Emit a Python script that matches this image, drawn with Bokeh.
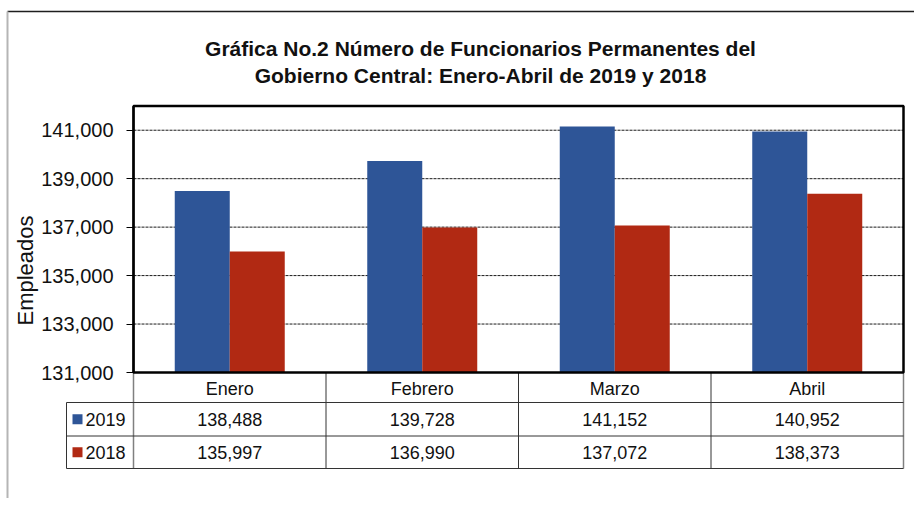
import math
from bokeh.plotting import figure
from bokeh.models import Range1d, FixedTicker, NumeralTickFormatter, LinearAxis
from bokeh.embed import file_html
from bokeh.resources import INLINE
from bokeh.core.properties import value

# ---------------- data ----------------
months = ["Enero", "Febrero", "Marzo", "Abril"]
series_names = ["2019", "2018"]
values_2019 = [138488, 139728, 141152, 140952]
values_2018 = [135997, 136990, 137072, 138373]
y_ticks = [131000, 133000, 135000, 137000, 139000, 141000]
title_lines = ["Gráfica No.2 Número de Funcionarios Permanentes del",
               "Gobierno Central: Enero-Abril de 2019 y 2018"]
y_label = "Empleados"

# ---------------- layout constants (canvas pixels) ----------------
BLUE = "#2E5597"
RED = "#B12913"
FONT = "Liberation Sans"
W, H = 914, 498
PLOT_L, PLOT_R = 133, 903          # chart frame, x
PLOT_T, PLOT_B = 105.5, 372        # chart frame, y (from top)
Y0, Y1 = 131000, 142000
NCAT = len(months)
cat_px = (PLOT_R - PLOT_L) / NCAT
val_px = (PLOT_B - PLOT_T) / (Y1 - Y0)
BAR_W = 0.2857

x_start = -PLOT_L / cat_px
x_end = NCAT + (W - PLOT_R) / cat_px
y_start = Y0 - (H - PLOT_B) / val_px
y_end = Y1 + PLOT_T / val_px

def px_x(v):
    return (v - PLOT_L) / cat_px

p = figure(width=W, height=H, x_range=Range1d(x_start, x_end), y_range=Range1d(y_start, y_end),
           output_backend="svg", toolbar_location=None,
           x_axis_location=None, y_axis_location=None,
           min_border_left=0, min_border_right=0, min_border_top=0, min_border_bottom=0)
p.extra_y_ranges = {"px": Range1d(H, 0)}
p.outline_line_color = None
p.xgrid.visible = False
p.ygrid.visible = False

centers = [i + 0.5 for i in range(NCAT)]

# grid lines (dotted) inside chart area
p.segment(x0=[0] * (len(y_ticks) - 1), x1=[NCAT] * (len(y_ticks) - 1), y0=y_ticks[1:], y1=y_ticks[1:],
          line_color="#1a1a1a", line_width=1, line_dash="3 1")

# bars
p.vbar(x=[c - BAR_W / 2 for c in centers], top=values_2019, bottom=Y0, width=BAR_W,
       fill_color=BLUE, line_color=None)
p.vbar(x=[c + BAR_W / 2 for c in centers], top=values_2018, bottom=Y0, width=BAR_W,
       fill_color=RED, line_color=None)

# outer chart border
p.segment(x0=[px_x(7)], x1=[x_end], y0=[11], y1=[11], y_range_name="px",
          line_color="#1e1e1e", line_width=1.5)
p.segment(x0=[px_x(7)], x1=[px_x(7)], y0=[11], y1=[H], y_range_name="px",
          line_color="#b5b5b5", line_width=2)

# ---------------- data table ----------------
HDR_T, HDR_B, R1_B, R2_B = PLOT_B, 402, 435.5, 468
LEFT_COL = px_x(66)
LINE = "#333333"
p.segment(x0=list(range(1, NCAT)), x1=list(range(1, NCAT)), y0=[HDR_T] * (NCAT - 1),
          y1=[R2_B] * (NCAT - 1), y_range_name="px", line_color=LINE, line_width=1)
p.segment(x0=[0, NCAT], x1=[0, NCAT], y0=[HDR_T, HDR_T], y1=[R2_B, R2_B], y_range_name="px",
          line_color="#808080", line_width=1.5)
p.segment(x0=[LEFT_COL], x1=[LEFT_COL], y0=[HDR_B], y1=[R2_B], y_range_name="px",
          line_color=LINE, line_width=1)
p.segment(x0=[LEFT_COL] * 3, x1=[NCAT] * 3, y0=[HDR_B, R1_B, R2_B], y1=[HDR_B, R1_B, R2_B],
          y_range_name="px", line_color=LINE, line_width=1)

# chart frame
p.quad(left=[0], right=[NCAT], bottom=[Y0], top=[Y1], fill_color=None,
       line_color="black", line_width=2.5)

# y axis at the chart's left edge
ax = LinearAxis(fixed_location=0, bounds=(Y0, Y1))
ax.ticker = FixedTicker(ticks=y_ticks)
ax.formatter = NumeralTickFormatter(format="0,0")
ax.major_label_text_font = FONT
ax.major_label_text_font_size = "20px"
ax.major_label_text_color = "#111111"
ax.major_tick_out = 7
ax.major_tick_in = 0
ax.minor_tick_out = 0
ax.minor_tick_in = 0
ax.major_tick_line_color = "black"
ax.axis_line_color = "black"
ax.axis_line_width = 2
ax.major_label_standoff = 13
p.add_layout(ax, "left")

# title
title_x = px_x(480)
p.text(x=[title_x, title_x], y=[48, 75], text=title_lines, y_range_name="px",
       text_align="center", text_baseline="middle", text_font=value(FONT),
       text_font_size="21px", text_font_style="bold", text_color="#111111")

# y axis label
p.text(x=[px_x(25)], y=[270], text=[y_label], y_range_name="px", angle=math.pi / 2,
       text_align="center", text_baseline="middle", text_font=value(FONT),
       text_font_size="22px", text_color="#111111")

row_h = (HDR_T + HDR_B) / 2 + 1
row_a = (HDR_B + R1_B) / 2
row_b = (R1_B + R2_B) / 2
txt = dict(text_align="center", text_baseline="middle", text_font=value(FONT),
           text_font_size="18px", text_color="#111111", y_range_name="px")
p.text(x=centers, y=[row_h] * NCAT, text=months, **txt)
p.text(x=centers, y=[row_a] * NCAT, text=[f"{v:,}" for v in values_2019], **txt)
p.text(x=centers, y=[row_b] * NCAT, text=[f"{v:,}" for v in values_2018], **txt)

lab_x = px_x(85)
sw_x = px_x(77)
p.text(x=[lab_x, lab_x], y=[row_a, row_b], text=series_names, y_range_name="px",
       text_align="left", text_baseline="middle", text_font=value(FONT),
       text_font_size="18px", text_color="#111111")
p.rect(x=[sw_x, sw_x], y=[row_a, row_b], width=10, height=10, width_units="screen",
       height_units="screen", fill_color=[BLUE, RED], line_color=None, y_range_name="px")

open("out.html", "w").write(file_html(p, INLINE))
